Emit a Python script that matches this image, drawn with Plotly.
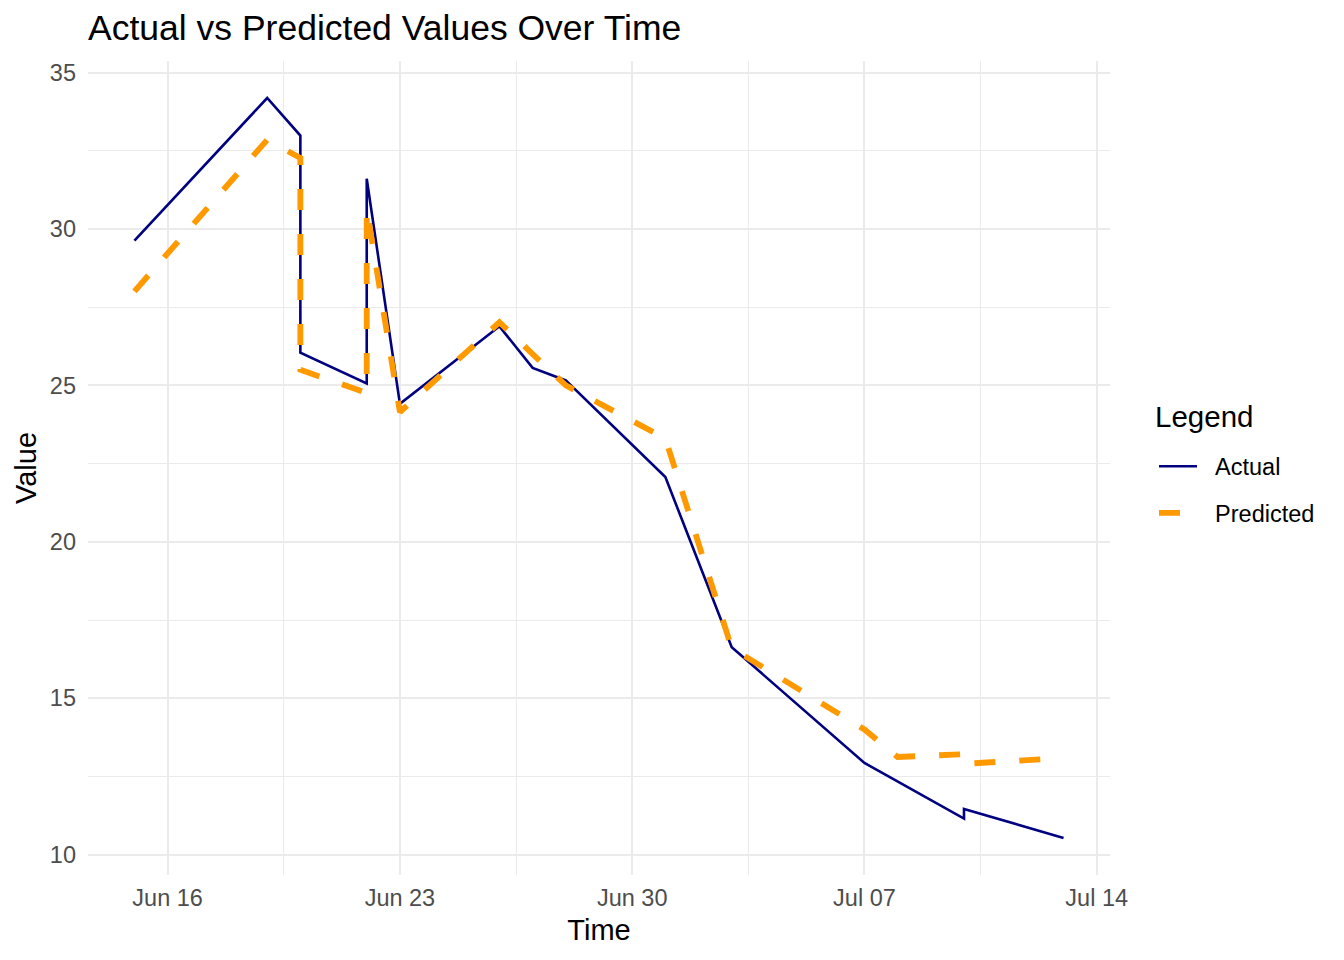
import plotly.graph_objects as go
import pandas as pd

# ---- data ----
dates = ["2024-06-15", "2024-06-19", "2024-06-20", "2024-06-20", "2024-06-22", "2024-06-22",
         "2024-06-23", "2024-06-26", "2024-06-27", "2024-06-28", "2024-07-01", "2024-07-03",
         "2024-07-07", "2024-07-08", "2024-07-10", "2024-07-10", "2024-07-13"]
actual = [29.63, 34.19, 32.99, 26.05, 25.06, 31.61, 24.41, 26.89, 25.56, 25.16, 22.07, 16.63,
          12.93, 12.33, 11.15, 11.46, 10.53]
predicted = [28.01, 32.85, 32.27, 25.50, 24.76, 30.65, 24.15, 27.02, 26.00, 25.00, 23.30, 16.60,
             14.00, 13.12, 13.21, 12.90, 13.09]
x_tick_vals = ["2024-06-16", "2024-06-23", "2024-06-30", "2024-07-07", "2024-07-14"]
x_tick_text = ["Jun 16", "Jun 23", "Jun 30", "Jul 07", "Jul 14"]
x_minor_vals = ["2024-06-19 12:00", "2024-06-26 12:00", "2024-07-03 12:00", "2024-07-10 12:00"]
y_tick_vals = [10, 15, 20, 25, 30, 35]
series_names = ["Actual", "Predicted"]

FONT = "Liberation Sans, Arial, Helvetica, sans-serif"
GRID = "#EBEBEB"
PAD = "\u00a0\u00a0"  # small gap between legend key and label

# page body adds an 8px offset; figure coordinates are shifted accordingly
W, H = 1336, 952
L, T, R_EDGE, B_EDGE = 80, 53, 1102, 867

dt = pd.to_datetime(dates)
span = dt.max() - dt.min()
x_range = [dt.min() - span * 0.05, dt.max() + span * 0.05]
ymin = min(min(actual), min(predicted))
ymax = max(max(actual), max(predicted))
ypad = (ymax - ymin) * 0.05
y_range = [ymin - ypad, ymax + ypad]

def px_x(p):
    return (p - L) / (R_EDGE - L)

def px_y(p):
    return (B_EDGE - p) / (B_EDGE - T)

fig = go.Figure()
fig.add_trace(go.Scatter(
    x=dt, y=actual, mode="lines", name=PAD + series_names[0], legendgroup="a",
    line=dict(color="#000080", width=2.6),
))
fig.add_trace(go.Scatter(
    x=dt, y=predicted, mode="lines", name=PAD + series_names[1], legendgroup="p",
    line=dict(color="#FF9900", width=5.8, dash="21px,24px"),
))

fig.update_layout(
    width=W, height=H,
    paper_bgcolor="white", plot_bgcolor="white",
    margin=dict(l=L, r=W - R_EDGE, t=T, b=H - B_EDGE),
    font=dict(family=FONT, color="black"),
    title=dict(text="Actual vs Predicted Values Over Time", font=dict(size=35.5, color="black"),
               x=L / W, xanchor="left", xref="container",
               y=1 - 20 / H, yanchor="middle", yref="container"),
    legend=dict(
        font=dict(size=23.5, color="black"),
        x=px_x(1146), xanchor="left", y=px_y(482), yanchor="middle",
        traceorder="grouped", tracegroupgap=13, itemwidth=38,
        bgcolor="rgba(0,0,0,0)",
    ),
    showlegend=True,
    annotations=[dict(
        text="Legend", showarrow=False, xref="paper", yref="paper",
        x=px_x(1145), xanchor="left", y=px_y(409), yanchor="middle",
        font=dict(size=29.5, color="black", family=FONT),
    )],
)
fig.update_xaxes(
    range=x_range, type="date", automargin=False,
    tickmode="array", tickvals=x_tick_vals, ticktext=x_tick_text,
    tickfont=dict(size=23.5, color="#4D4D4D"), ticklabelstandoff=6,
    showgrid=True, gridcolor=GRID, gridwidth=2.2,
    minor=dict(tickmode="array", tickvals=x_minor_vals, showgrid=True, gridcolor=GRID, gridwidth=1.1),
    showline=False, zeroline=False, ticks="",
    title=dict(text="Time", font=dict(size=29, color="black"), standoff=10),
)
fig.update_yaxes(
    range=y_range, automargin=False,
    tickmode="array", tickvals=y_tick_vals,
    tickfont=dict(size=23.5, color="#4D4D4D"), ticklabelstandoff=11,
    showgrid=True, gridcolor=GRID, gridwidth=2.2,
    minor=dict(dtick=2.5, showgrid=True, gridcolor=GRID, gridwidth=1.1),
    showline=False, zeroline=False, ticks="",
    title=dict(text="Value", font=dict(size=29, color="black"), standoff=4),
)

fig.write_html("out.html")
